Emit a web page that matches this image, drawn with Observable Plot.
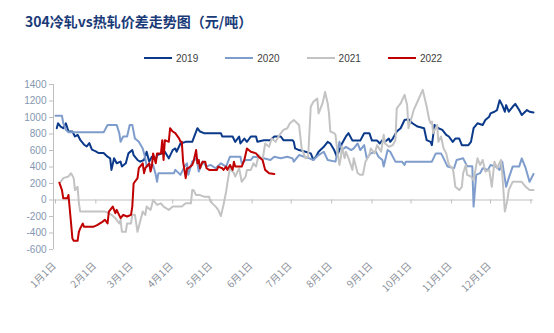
<!DOCTYPE html>
<html>
<head>
<meta charset="utf-8">
<script src="https://cdn.jsdelivr.net/npm/d3@7"></script>
<script src="https://cdn.jsdelivr.net/npm/@observablehq/plot@0.6"></script>
<style>
  html, body { margin: 0; padding: 0; background: #fff; }
  #wrap { position: relative; width: 554px; height: 333px; overflow: hidden; }
  #title { position: absolute; left: 25px; top: 11px; font: 700 14px "Noto Sans CJK SC", sans-serif; color: #1a3a78; white-space: nowrap; }
  #legend { position: absolute; left: 0; top: 51px; width: 554px; height: 14px; font: 10px "Liberation Sans", Arial, sans-serif; color: #404040; }
  .item { position: absolute; top: 0; height: 14px; display: flex; align-items: center; }
  .sw { width: 28px; height: 2.5px; margin-right: 4px; }
  #chart { position: absolute; left: 0; top: 70px; }
</style>
</head>
<body>
<div id="wrap">
  <div id="title">304冷轧vs热轧价差走势图（元/吨）</div>
  <div id="legend"></div>
  <div id="chart"></div>
</div>
<script>
// Series names and colours
const seriesNames = ["2019", "2020", "2021", "2022"];
const seriesColors = ["#0b3a8a", "#7f9dcc", "#c3c3c3", "#c00000"];

// X axis: month start (day of year) and labels
const monthStarts = [0, 31, 59, 90, 120, 151, 181, 212, 243, 273, 304, 334];
const monthLabels = ["1月1日","2月1日","3月1日","4月1日","5月1日","6月1日","7月1日","8月1日","9月1日","10月1日","11月1日","12月1日"];
const tickDays = [0, 31, 59, 90, 120, 151, 181, 212, 243, 273, 304, 334, 365];
const yTicks = [-600, -400, -200, 0, 200, 400, 600, 800, 1000, 1200, 1400];

// [day of year, spread 元/吨]
const s2019 = [[1,870],[2,930],[4,890],[6,870],[8,930],[10,830],[13,830],[15,770],[17,790],[19,730],[22,670],[24,650],[26,690],[28,610],[31,590],[33,570],[37,570],[40,525],[42,505],[43,365],[45,505],[47,445],[50,465],[51,405],[54,445],[56,565],[59,605],[60,545],[63,485],[65,465],[68,485],[70,585],[72,465],[74,525],[77,485],[78,545],[82,565],[84,585],[87,505],[90,605],[92,625],[93,585],[96,685],[100,705],[105,705],[109,870],[111,830],[114,810],[127,810],[128,770],[136,770],[138,705],[141,770],[142,685],[145,745],[147,705],[150,770],[154,770],[155,705],[160,725],[165,725],[168,770],[173,770],[175,725],[182,725],[183,705],[184,625],[187,605],[192,585],[196,565],[198,485],[200,525],[202,585],[206,645],[209,705],[211,685],[214,605],[216,525],[220,685],[223,770],[225,810],[228,720],[234,720],[237,810],[241,810],[243,720],[247,720],[249,685],[251,725],[253,705],[256,745],[257,705],[259,745],[262,830],[265,870],[268,970],[271,980],[274,930],[278,890],[283,870],[285,725],[288,705],[289,665],[291,910],[294,870],[297,850],[300,790],[302,770],[305,705],[307,745],[310,745],[312,665],[317,665],[319,705],[321,870],[324,930],[328,910],[330,970],[333,1010],[334,1050],[337,1070],[339,1090],[341,1210],[343,1150],[345,1070],[346,1150],[348,1070],[351,1130],[353,1165],[356,1090],[358,1030],[362,1090],[364,1070],[367,1060]];

const s2020 = [[0,1020],[5,1020],[6,930],[8,850],[10,820],[37,820],[40,910],[47,910],[49,810],[50,705],[52,770],[55,770],[57,910],[59,910],[61,745],[64,705],[67,625],[69,505],[70,405],[73,425],[75,425],[77,305],[78,220],[79,325],[91,325],[92,365],[96,305],[99,405],[101,445],[102,305],[105,465],[108,505],[109,445],[110,345],[113,465],[116,405],[119,425],[123,385],[127,445],[131,405],[134,525],[142,525],[143,445],[146,485],[150,485],[152,525],[160,505],[165,485],[168,525],[173,505],[178,525],[182,505],[183,465],[187,545],[191,525],[195,505],[198,485],[202,545],[206,585],[209,485],[215,465],[218,705],[220,605],[223,645],[227,605],[229,625],[232,685],[234,605],[237,665],[239,505],[242,565],[246,585],[248,525],[251,485],[252,405],[255,605],[257,585],[261,465],[266,465],[268,425],[269,465],[289,465],[292,565],[296,565],[298,505],[301,405],[306,385],[308,485],[313,505],[316,410],[320,410],[321,-80],[323,305],[326,325],[328,385],[332,365],[334,425],[338,405],[341,365],[343,465],[346,160],[348,265],[351,405],[356,405],[358,505],[361,385],[364,220],[367,315]];

const s2021 = [[4,220],[6,265],[10,285],[12,325],[14,265],[15,120],[17,160],[18,-40],[19,-140],[38,-140],[41,-160],[43,-180],[46,-220],[49,-285],[50,-240],[51,-385],[54,-385],[55,-285],[58,-285],[59,-180],[61,-180],[63,-385],[65,-265],[67,-140],[69,-180],[70,-80],[73,-120],[75,0],[78,-60],[81,-40],[83,-80],[87,-120],[90,-80],[97,-80],[100,-40],[104,-40],[105,120],[106,120],[108,60],[111,60],[114,40],[118,40],[119,-20],[123,-80],[125,-120],[127,-195],[129,-60],[131,100],[133,305],[134,385],[137,325],[138,285],[141,385],[143,220],[146,285],[147,365],[150,365],[152,445],[154,405],[156,545],[159,485],[161,685],[164,645],[166,745],[169,705],[172,790],[175,850],[178,870],[180,930],[183,970],[187,910],[189,625],[192,505],[194,525],[196,1130],[198,1190],[201,1230],[202,1050],[205,1170],[207,1310],[209,1170],[210,1050],[211,830],[214,810],[215,790],[216,645],[218,425],[219,505],[220,645],[222,505],[223,585],[225,505],[228,365],[229,505],[232,325],[234,305],[236,305],[238,465],[241,545],[242,625],[245,565],[247,665],[250,585],[252,790],[253,685],[256,645],[259,665],[261,725],[262,1110],[265,1170],[268,1275],[270,1150],[271,870],[274,1030],[275,1090],[279,1230],[282,1335],[285,1130],[287,970],[288,930],[289,950],[290,810],[293,910],[294,705],[296,770],[298,625],[300,565],[302,425],[305,385],[306,285],[307,160],[310,120],[312,160],[313,325],[315,425],[316,305],[319,285],[321,240],[324,505],[326,425],[328,485],[330,345],[333,365],[335,160],[337,465],[339,385],[342,485],[343,325],[345,-140],[347,0],[348,120],[351,220],[358,220],[361,160],[364,120],[367,120]];

const s2022 = [[3,210],[5,120],[6,20],[9,20],[10,60],[12,-285],[13,-465],[14,-495],[17,-495],[18,-385],[19,-345],[21,-285],[22,-325],[29,-325],[32,-305],[36,-265],[38,-240],[40,-285],[41,-140],[44,-80],[46,-160],[47,-120],[50,-220],[52,-180],[55,-200],[58,-180],[59,-80],[60,200],[63,265],[64,385],[67,445],[68,325],[69,385],[72,445],[73,345],[74,405],[75,565],[77,445],[78,565],[81,565],[82,725],[83,485],[84,725],[87,705],[88,870],[90,830],[92,810],[95,745],[96,705],[97,705],[98,465],[100,265],[101,385],[102,385],[105,425],[106,465],[108,605],[109,445],[110,485],[111,385],[113,465],[115,465],[116,385],[118,365],[124,365],[125,405],[128,385],[129,365],[131,405],[132,365],[134,425],[136,365],[137,465],[138,405],[143,405],[145,485],[147,625],[150,585],[154,565],[156,525],[159,485],[161,365],[164,325],[168,315]];

const seriesData = [s2019, s2020, s2021, s2022];
const rows = [];
seriesData.forEach((s, i) => s.forEach(([day, value]) => rows.push({series: seriesNames[i], day, value})));

// Legend (HTML, above the SVG)
const legend = document.getElementById("legend");
seriesNames.forEach((name, i) => {
  const it = document.createElement("div");
  it.className = "item";
  it.style.left = (144 + i * 81.3) + "px";
  it.innerHTML = `<span class="sw" style="background:${seriesColors[i]}"></span><span>${name}</span>`;
  legend.appendChild(it);
});

const chart = Plot.plot({
  width: 554,
  height: 263,
  marginLeft: 53,
  marginRight: 21,
  marginTop: 14,
  marginBottom: 84,
  style: {background: "transparent", fontFamily: "'Liberation Sans', Arial, sans-serif"},
  x: {domain: [-1.5, 367], axis: null},
  y: {domain: [-600, 1400], axis: null},
  color: {domain: seriesNames, range: seriesColors},
  marks: [
    Plot.axisY(yTicks, {tickSize: 4, tickPadding: 3, tickFormat: d => String(d), stroke: "#bfbfbf", fill: "#8497b0", fontSize: 10, label: null, fontFamily: "'Liberation Sans', Arial, sans-serif"}),
    Plot.ruleX([-1.5], {stroke: "#bfbfbf", strokeWidth: 1}),
    Plot.ruleY([0], {stroke: "#bfbfbf", strokeWidth: 1}),
    Plot.ruleX(tickDays, {x: d => d, y1: 0, y2: 0, insetBottom: -4, stroke: "#bfbfbf", strokeWidth: 1}),
    Plot.text(monthStarts, {x: d => d, frameAnchor: "bottom", text: (d, i) => monthLabels[i], rotate: -45, textAnchor: "end", dy: 17, dx: 1, fontSize: 10, fill: "#8a8f99", fontFamily: "'Noto Sans CJK SC', sans-serif"}),
    Plot.line(rows, {x: "day", y: "value", z: "series", stroke: "series", strokeWidth: 2, strokeLinejoin: "round"})
  ]
});
document.getElementById("chart").appendChild(chart);
</script>
</body>
</html>
